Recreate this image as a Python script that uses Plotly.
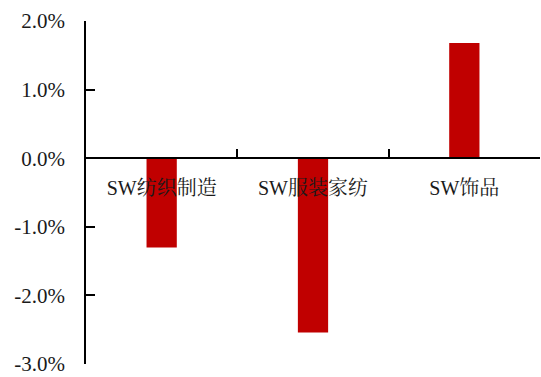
import plotly.graph_objects as go

categories = ["SW纺织制造", "SW服装家纺", "SW饰品"]
values = [-0.0130, -0.0254, 0.0168]
y_ticks = [-0.03, -0.02, -0.01, 0.0, 0.01, 0.02]
y_tick_labels = ["-3.0%", "-2.0%", "-1.0%", "0.0%", "1.0%", "2.0%"]

font_family = "Liberation Serif, Noto Serif CJK SC, Noto Sans CJK SC, serif"

fig = go.Figure()
fig.add_trace(go.Bar(
    x=categories,
    y=values,
    width=0.2,
    marker=dict(color="#C00000", line=dict(width=0)),
    showlegend=False,
))

y_min, y_max = -0.03, 0.02
zero_pos = (0 - y_min) / (y_max - y_min)

fig.update_layout(
    width=541,
    height=377,
    margin=dict(l=86, r=1, t=21, b=13),
    paper_bgcolor="white",
    plot_bgcolor="white",
    font=dict(family=font_family, size=20, color="#1a1a1a"),
    xaxis=dict(
        type="category",
        anchor="free",
        position=zero_pos,
        showline=True,
        linecolor="black",
        linewidth=1.5,
        ticks="inside",
        ticklen=8,
        tickwidth=1.5,
        tickcolor="black",
        tickson="boundaries",
        showgrid=False,
        zeroline=False,
        ticklabelstandoff=12,
        tickfont=dict(size=20),
    ),
    yaxis=dict(
        range=[y_min, y_max],
        tickvals=y_ticks,
        ticktext=y_tick_labels,
        showline=True,
        linecolor="black",
        linewidth=1.5,
        ticks="inside",
        ticklen=9,
        tickwidth=1.5,
        tickcolor="black",
        showgrid=False,
        zeroline=False,
        ticklabelstandoff=15,
        tickfont=dict(size=21),
    ),
)

fig.write_html("out.html")
